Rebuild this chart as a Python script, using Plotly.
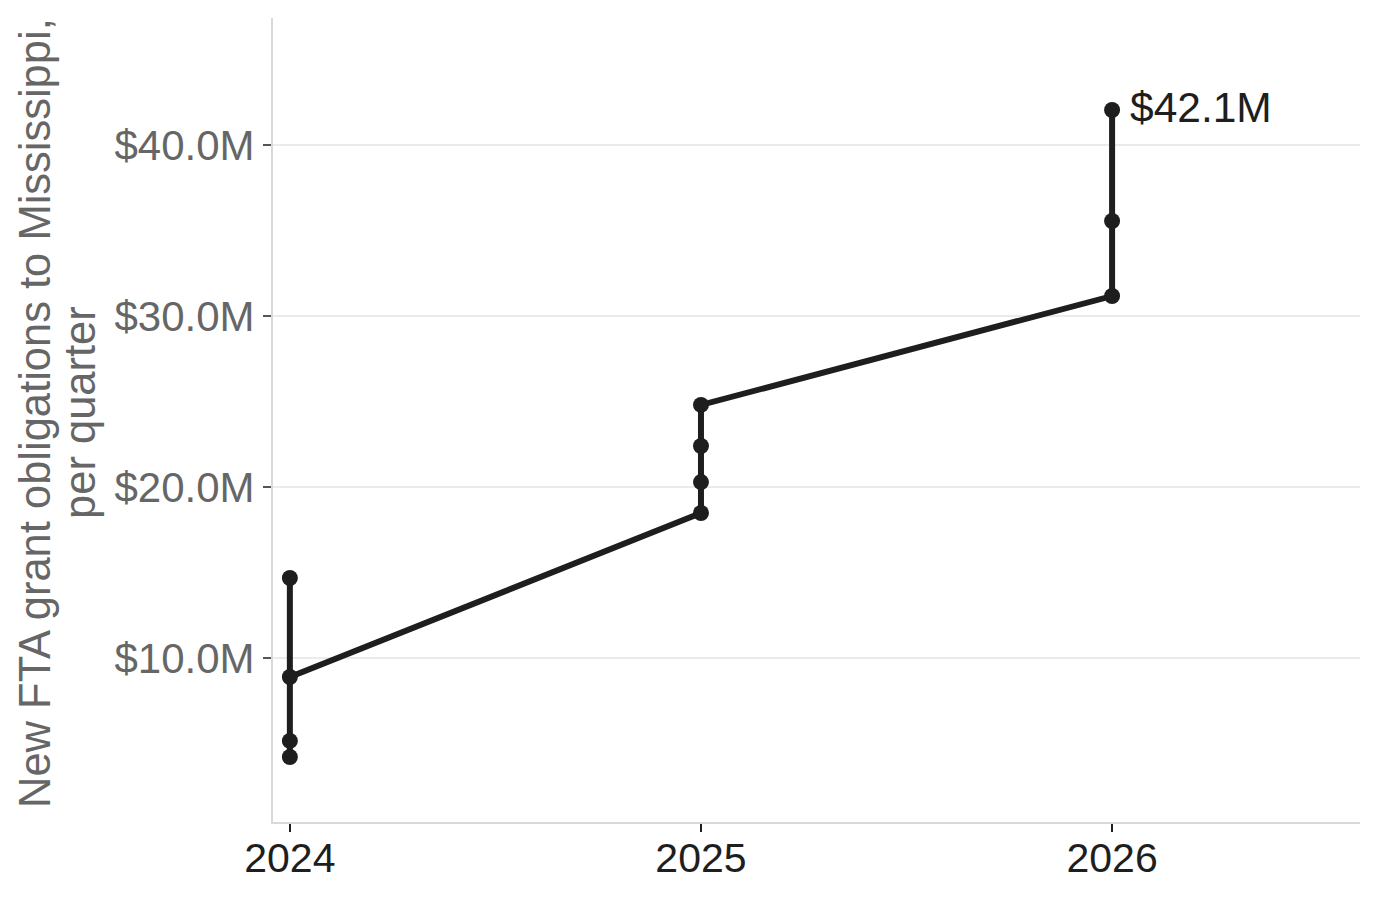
import plotly.graph_objects as go

# Data (values in millions of dollars)
quarter_year = [2024, 2024, 2024, 2024, 2025, 2025, 2025, 2025, 2026, 2026, 2026]
obligations_m = [14.68, 4.21, 5.15, 8.89, 18.48, 20.29, 22.40, 24.80, 31.17, 35.56, 42.05]
end_label = "$42.1M"

x_ticks = [2024, 2025, 2026]
y_ticks = [10, 20, 30, 40]
y_tick_text = ["$10.0M", "$20.0M", "$30.0M", "$40.0M"]

title_line1 = "New FTA grant obligations to Mississippi,"
title_line2 = "per quarter"

FONT = "Liberation Sans, Arial, Helvetica, sans-serif"
INK = "#1e1e1e"

fig = go.Figure()
fig.add_trace(go.Scatter(
    x=quarter_year, y=obligations_m,
    mode="lines+markers",
    line=dict(color=INK, width=6),
    marker=dict(color=INK, size=16),
    showlegend=False,
    hoverinfo="skip",
))

fig.add_annotation(
    x=quarter_year[-1], y=obligations_m[-1], text=end_label,
    xref="x", yref="y", showarrow=False,
    xanchor="left", yanchor="middle", xshift=16, yshift=2,
    font=dict(family=FONT, size=42.5, color=INK),
)

fig.add_annotation(
    x=0, y=0.5, xref="paper", yref="paper", text=title_line1,
    showarrow=False, textangle=-90, xanchor="center", yanchor="middle",
    xshift=-238, yshift=7, font=dict(family=FONT, size=43.5, color="#666666"),
)
fig.add_annotation(
    x=0, y=0.5, xref="paper", yref="paper", text=title_line2,
    showarrow=False, textangle=-90, xanchor="center", yanchor="middle",
    xshift=-193, yshift=7, font=dict(family=FONT, size=43.5, color="#666666"),
)

fig.update_layout(
    width=1372, height=891,
    margin=dict(l=265, r=20, t=10, b=77),
    plot_bgcolor="white", paper_bgcolor="white",
    font=dict(family=FONT),
    xaxis=dict(
        range=[2023.959, 2026.603],
        tickvals=x_ticks, ticktext=[str(v) for v in x_ticks],
        showgrid=False, zeroline=False,
        showline=True, linecolor="#d9d9d9", linewidth=2,
        ticks="outside", ticklen=8, tickwidth=2, tickcolor="#1e1e1e",
        ticklabelstandoff=-9,
        tickfont=dict(family=FONT, size=41, color="#1e1e1e"),
    ),
    yaxis=dict(
        range=[0.41, 47.43],
        tickvals=y_ticks, ticktext=y_tick_text,
        showgrid=True, gridcolor="#ebebeb", gridwidth=2,
        zeroline=False,
        showline=True, linecolor="#d9d9d9", linewidth=2,
        ticks="outside", ticklen=8, tickwidth=2, tickcolor="#555555",
        tickfont=dict(family=FONT, size=42, color="#666666"),
    ),
)

fig.write_html("out.html")
